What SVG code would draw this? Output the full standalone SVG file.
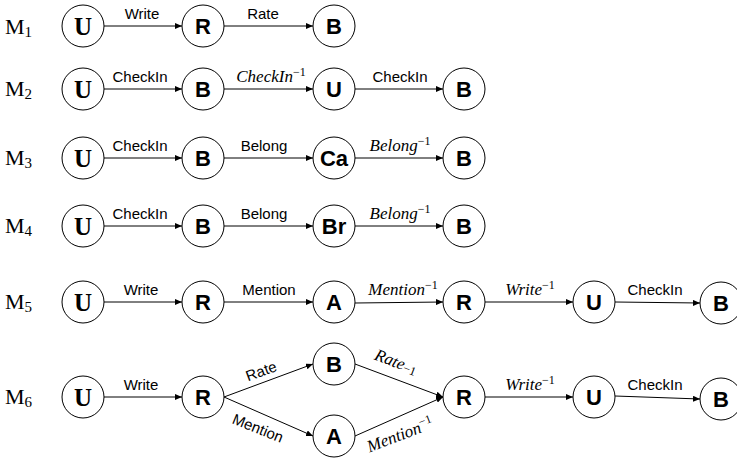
<svg xmlns="http://www.w3.org/2000/svg" width="737" height="458" viewBox="0 0 737 458">
<defs>
<marker id="ah" viewBox="0 0 7 6" refX="7" refY="3" markerWidth="7" markerHeight="6" markerUnits="userSpaceOnUse" orient="auto">
<path d="M0,0 L7,3 L0,6 z" fill="#000"/>
</marker>
</defs>
<style>
.nd{fill:#fff;stroke:#000;stroke-width:1}
.nt{font-family:"Liberation Sans",Arial,sans-serif;font-weight:bold;font-size:22px;text-anchor:middle;fill:#000}
.ns{font-family:"Liberation Serif","Times New Roman",serif;font-weight:bold;font-size:25px;text-anchor:middle;fill:#000}
.ed{stroke:#000;stroke-width:1;fill:none;marker-end:url(#ah)}
.el{font-family:"Liberation Sans",Arial,sans-serif;font-size:15px;text-anchor:middle;fill:#000}
.em{font-family:"Liberation Serif","Times New Roman",serif;font-style:italic;font-size:17px;text-anchor:middle;fill:#000}
.sp{font-size:12px;font-style:normal}
.ml{font-family:"Liberation Serif","Times New Roman",serif;font-size:22px;fill:#000}
.ms{font-size:15px}
</style>
<g id="labels">
<text class="ml" x="5" y="34">M<tspan class="ms" dy="3">1</tspan></text>
<text class="ml" x="5" y="96">M<tspan class="ms" dy="3">2</tspan></text>
<text class="ml" x="5" y="165">M<tspan class="ms" dy="3">3</tspan></text>
<text class="ml" x="5" y="233">M<tspan class="ms" dy="3">4</tspan></text>
<text class="ml" x="5" y="309">M<tspan class="ms" dy="3">5</tspan></text>
<text class="ml" x="5" y="404">M<tspan class="ms" dy="3">6</tspan></text>
</g>
<g id="connectors">
<line class="ed" x1="104" y1="26" x2="182" y2="26"/>
<line class="ed" x1="224" y1="26" x2="313" y2="26"/>
<line class="ed" x1="104" y1="89" x2="182" y2="89"/>
<line class="ed" x1="224" y1="89" x2="313" y2="89"/>
<line class="ed" x1="355" y1="89" x2="443" y2="89"/>
<line class="ed" x1="104" y1="158" x2="182" y2="158"/>
<line class="ed" x1="224" y1="158" x2="313" y2="158"/>
<line class="ed" x1="355" y1="158" x2="443" y2="158"/>
<line class="ed" x1="104" y1="226" x2="182" y2="226"/>
<line class="ed" x1="224" y1="226" x2="313" y2="226"/>
<line class="ed" x1="355" y1="226" x2="443" y2="226"/>
<line class="ed" x1="104" y1="302" x2="182" y2="302"/>
<line class="ed" x1="224" y1="302" x2="313" y2="302"/>
<line class="ed" x1="355" y1="303" x2="443" y2="302"/>
<line class="ed" x1="485" y1="302" x2="573" y2="302"/>
<line class="ed" x1="615" y1="302" x2="700" y2="303"/>
<line class="ed" x1="104" y1="397" x2="182" y2="397"/>
<line class="ed" x1="224" y1="397" x2="313" y2="364"/>
<line class="ed" x1="224" y1="397" x2="313" y2="436"/>
<line class="ed" x1="355" y1="364" x2="443" y2="397"/>
<line class="ed" x1="355" y1="436" x2="443" y2="397"/>
<line class="ed" x1="485" y1="397" x2="573" y2="397"/>
<line class="ed" x1="615" y1="396" x2="700" y2="399"/>
<text class="el" x="142" y="19">Write</text>
<text class="el" x="263" y="19">Rate</text>
<text class="el" x="140" y="82">CheckIn</text>
<text class="em" x="271" y="82">CheckIn<tspan class="sp" dy="-6">−1</tspan></text>
<text class="el" x="400" y="82">CheckIn</text>
<text class="el" x="140" y="151">CheckIn</text>
<text class="el" x="264" y="151">Belong</text>
<text class="em" x="400" y="151">Belong<tspan class="sp" dy="-6">−1</tspan></text>
<text class="el" x="140" y="219">CheckIn</text>
<text class="el" x="264" y="219">Belong</text>
<text class="em" x="400" y="219">Belong<tspan class="sp" dy="-6">−1</tspan></text>
<text class="el" x="141" y="295">Write</text>
<text class="el" x="269" y="295">Mention</text>
<text class="em" x="403" y="295">Mention<tspan class="sp" dy="-6">−1</tspan></text>
<text class="em" x="530" y="295">Write<tspan class="sp" dy="-6">−1</tspan></text>
<text class="el" x="655" y="295">CheckIn</text>
<text class="el" x="141" y="390">Write</text>
<text class="el" transform="translate(263,376) rotate(-20)">Rate</text>
<text class="el" transform="translate(256,433) rotate(22)">Mention</text>
<text class="em" transform="translate(394,367) rotate(21)">Rate<tspan class="sp" dy="1">−1</tspan></text>
<text class="em" transform="translate(402,440) rotate(-21)">Mention<tspan class="sp" dy="-6">−1</tspan></text>
<text class="em" x="530" y="390">Write<tspan class="sp" dy="-6">−1</tspan></text>
<text class="el" x="655" y="390">CheckIn</text>
</g>
<g id="m1-u"><circle class="nd" cx="83" cy="26" r="21"/><text class="ns" x="83" y="35">U</text></g>
<g id="m1-r"><circle class="nd" cx="203" cy="26" r="21"/><text class="nt" x="203" y="34">R</text></g>
<g id="m1-b"><circle class="nd" cx="334" cy="26" r="21"/><text class="nt" x="334" y="34">B</text></g>
<g id="m2-u"><circle class="nd" cx="83" cy="89" r="21"/><text class="ns" x="83" y="98">U</text></g>
<g id="m2-b"><circle class="nd" cx="203" cy="89" r="21"/><text class="nt" x="203" y="97">B</text></g>
<g id="m2-u2"><circle class="nd" cx="334" cy="89" r="21"/><text class="nt" x="334" y="97">U</text></g>
<g id="m2-b2"><circle class="nd" cx="464" cy="89" r="21"/><text class="nt" x="464" y="97">B</text></g>
<g id="m3-u"><circle class="nd" cx="83" cy="158" r="21"/><text class="ns" x="83" y="167">U</text></g>
<g id="m3-b"><circle class="nd" cx="203" cy="158" r="21"/><text class="nt" x="203" y="166">B</text></g>
<g id="m3-ca"><circle class="nd" cx="334" cy="158" r="21"/><text class="nt" x="334" y="166">Ca</text></g>
<g id="m3-b2"><circle class="nd" cx="464" cy="158" r="21"/><text class="nt" x="464" y="166">B</text></g>
<g id="m4-u"><circle class="nd" cx="83" cy="226" r="21"/><text class="ns" x="83" y="235">U</text></g>
<g id="m4-b"><circle class="nd" cx="203" cy="226" r="21"/><text class="nt" x="203" y="234">B</text></g>
<g id="m4-br"><circle class="nd" cx="334" cy="226" r="21"/><text class="nt" x="334" y="234">Br</text></g>
<g id="m4-b2"><circle class="nd" cx="464" cy="226" r="21"/><text class="nt" x="464" y="234">B</text></g>
<g id="m5-u"><circle class="nd" cx="83" cy="302" r="21"/><text class="ns" x="83" y="311">U</text></g>
<g id="m5-r"><circle class="nd" cx="203" cy="302" r="21"/><text class="nt" x="203" y="310">R</text></g>
<g id="m5-a"><circle class="nd" cx="334" cy="302" r="21"/><text class="nt" x="334" y="310">A</text></g>
<g id="m5-r2"><circle class="nd" cx="464" cy="302" r="21"/><text class="nt" x="464" y="310">R</text></g>
<g id="m5-u2"><circle class="nd" cx="594" cy="302" r="21"/><text class="nt" x="594" y="310">U</text></g>
<g id="m5-b"><circle class="nd" cx="721" cy="303" r="21"/><text class="nt" x="721" y="311">B</text></g>
<g id="m6-u"><circle class="nd" cx="83" cy="397" r="21"/><text class="ns" x="83" y="406">U</text></g>
<g id="m6-r"><circle class="nd" cx="203" cy="397" r="21"/><text class="nt" x="203" y="405">R</text></g>
<g id="m6-b"><circle class="nd" cx="334" cy="364" r="21"/><text class="nt" x="334" y="372">B</text></g>
<g id="m6-a"><circle class="nd" cx="334" cy="436" r="21"/><text class="nt" x="334" y="444">A</text></g>
<g id="m6-r2"><circle class="nd" cx="464" cy="397" r="21"/><text class="nt" x="464" y="405">R</text></g>
<g id="m6-u2"><circle class="nd" cx="594" cy="397" r="21"/><text class="nt" x="594" y="405">U</text></g>
<g id="m6-b2"><circle class="nd" cx="721" cy="399" r="21"/><text class="nt" x="721" y="407">B</text></g>
</svg>
